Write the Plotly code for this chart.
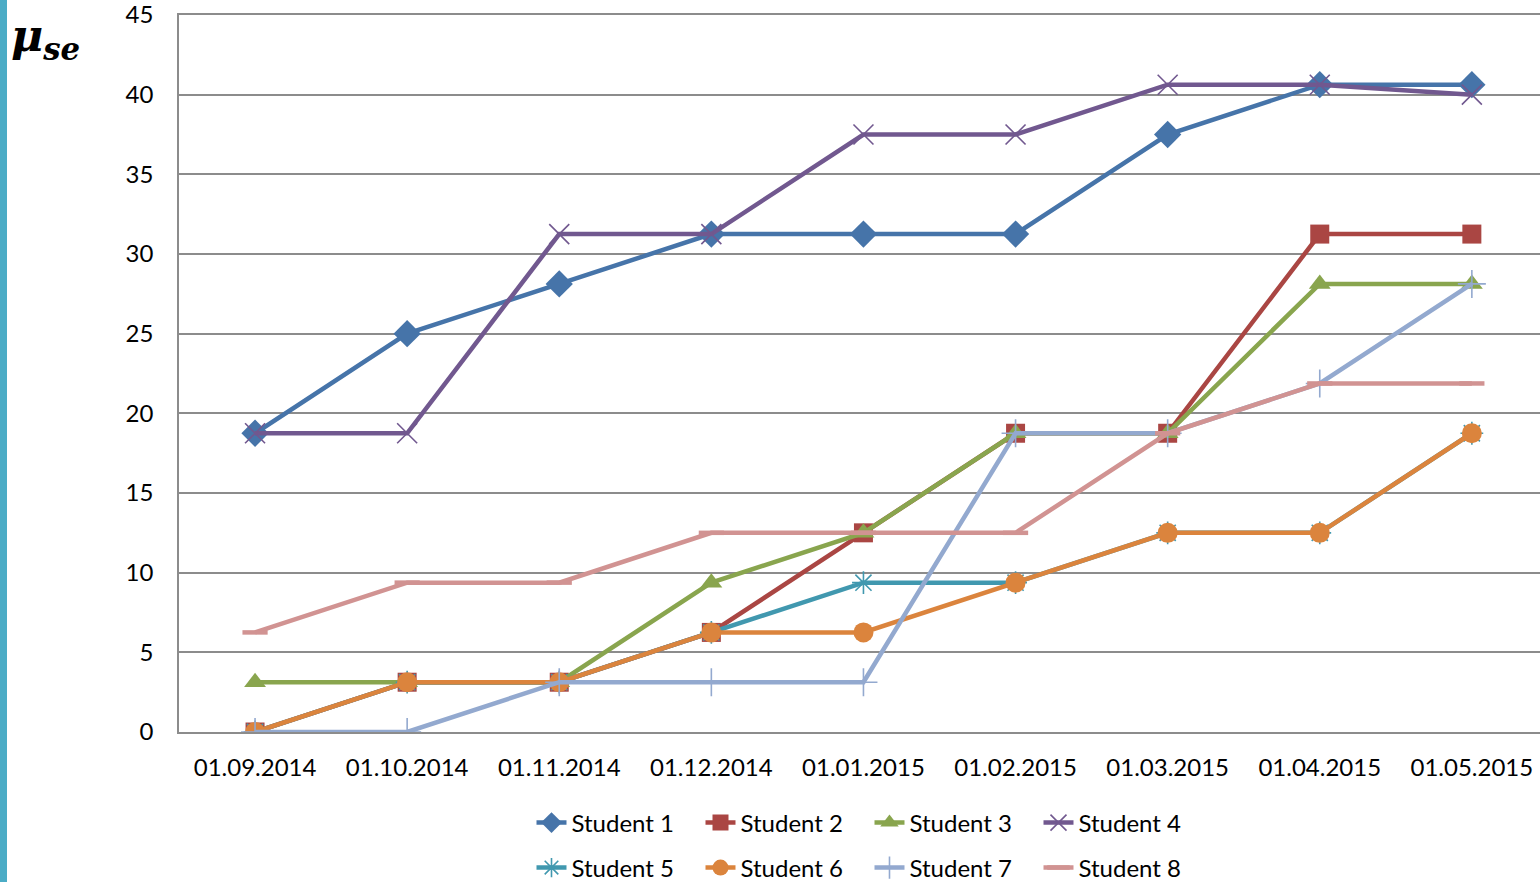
import plotly.graph_objects as go

# Survey dates (category axis)
dates = ["01.09.2014", "01.10.2014", "01.11.2014", "01.12.2014", "01.01.2015",
         "01.02.2015", "01.03.2015", "01.04.2015", "01.05.2015"]

# μse values per student
student_1 = [18.75, 25.0, 28.125, 31.25, 31.25, 31.25, 37.5, 40.625, 40.625]
student_2 = [0.0, 3.125, 3.125, 6.25, 12.5, 18.75, 18.75, 31.25, 31.25]
student_3 = [3.125, 3.125, 3.125, 9.375, 12.5, 18.75, 18.75, 28.125, 28.125]
student_4 = [18.75, 18.75, 31.25, 31.25, 37.5, 37.5, 40.625, 40.625, 40.0]
student_5 = [0.0, 3.125, 3.125, 6.25, 9.375, 9.375, 12.5, 12.5, 18.75]
student_6 = [0.0, 3.125, 3.125, 6.25, 6.25, 9.375, 12.5, 12.5, 18.75]
student_7 = [0.0, 0.0, 3.125, 3.125, 3.125, 18.75, 18.75, 21.875, 28.125]
student_8 = [6.25, 9.375, 9.375, 12.5, 12.5, 12.5, 18.75, 21.875, 21.875]

names = ["Student 1", "Student 2", "Student 3", "Student 4",
         "Student 5", "Student 6", "Student 7", "Student 8"]
series = [student_1, student_2, student_3, student_4,
          student_5, student_6, student_7, student_8]

colors = ["#4674A9", "#AA4643", "#89A54E", "#71588F",
          "#4198AF", "#DB843D", "#93A9CF", "#D19392"]
symbols = ["diamond", "square", "triangle-up", "x-thin-open",
           "asterisk-open", "circle", "cross-thin-open", "line-ew-open"]
sizes = [21, 19, 19, 20, 19, 20, 20, 18]

FONT = "Lato"

fig = go.Figure()
for i, (name, vals) in enumerate(zip(names, series)):
    thin = symbols[i].endswith("-open")
    fig.add_trace(go.Scatter(
        x=dates, y=vals, name=name, mode="lines+markers",
        line=dict(color=colors[i], width=4.5),
        marker=dict(symbol=symbols[i], size=sizes[i], color=colors[i],
                    line=dict(color=colors[i], width=(1.6 if i < 7 else 4.5) if thin else 0)),
        legend="legend" if i < 4 else "legend2",
    ))

legend_style = dict(
    orientation="h", xanchor="left", yanchor="middle", yref="container",
    font=dict(family=FONT, size=24, color="#000000"),
    bgcolor="rgba(0,0,0,0)", entrywidth=124, itemwidth=30,
    tracegroupgap=0,
)

fig.update_layout(
    width=1540, height=882,
    margin=dict(l=179, r=0, t=15, b=150, autoexpand=False),
    paper_bgcolor="white", plot_bgcolor="white",
    font=dict(family=FONT, size=24, color="#000000"),
    showlegend=True,
    legend=dict(x=0.259, y=1 - 823 / 882, **legend_style),
    legend2=dict(x=0.259, y=1 - 868 / 882, **legend_style),
    xaxis=dict(
        type="category", range=[-0.5, 8.448],
        showgrid=False, showline=True, mirror=True,
        linecolor="#8C8C8C", linewidth=1.5, zeroline=False,
        ticks="", tickfont=dict(family=FONT, size=24),
        ticklabelstandoff=13, automargin=False,
    ),
    yaxis=dict(
        range=[0, 45], dtick=5, tick0=0,
        showgrid=True, gridcolor="#8C8C8C", gridwidth=1.5,
        showline=True, linecolor="#8C8C8C", linewidth=1.5,
        zeroline=True, zerolinecolor="#8C8C8C", zerolinewidth=1.5,
        ticks="", tickfont=dict(family=FONT, size=24),
        ticklabelstandoff=19, automargin=False,
        ticklabeloverflow="allow",
    ),
    annotations=[dict(
        text="<b><i>μ<sub>se</sub></i></b>", xref="paper", yref="paper",
        x=-0.125, y=1.01, xanchor="left", yanchor="top", showarrow=False,
        font=dict(family="DejaVu Serif", size=44, color="#000000"),
    )],
    shapes=[dict(
        type="rect", xref="paper", yref="paper",
        x0=-179 / 1361, x1=-172 / 1361, y0=-150 / 717, y1=1 + 15 / 717,
        fillcolor="#4BACC6", line=dict(width=0), layer="above",
    )],
)

fig.write_html("out.html")
